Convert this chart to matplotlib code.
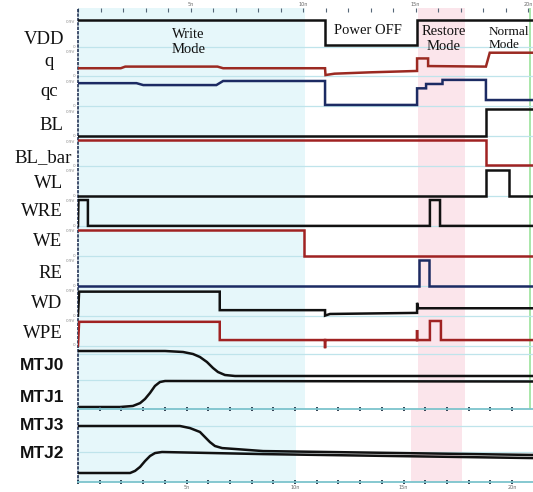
import numpy as np
import matplotlib
matplotlib.use('Agg')
from matplotlib import pyplot as plt

# signal names (lane order, top to bottom)
signals = ['VDD', 'q', 'qc', 'BL', 'BL_bar', 'WL', 'WRE', 'WE', 'RE', 'WD', 'WPE']

# waveforms: time (ns) / level (V)
vdd_t = [0, 10.98, 10.98, 15.07, 15.07, 20.3]
vdd_v = [0.98, 0.98, 0.05, 0.05, 0.98, 0.98]
q_t = [0, 1.9, 2.1, 6.2, 6.45, 10.98, 11.0, 11.4, 13.0, 15.07, 15.07, 15.56, 15.56, 18.13, 18.3, 20.3]
q_v = [0.30, 0.30, 0.36, 0.36, 0.30, 0.30, 0.05, 0.10, 0.15, 0.20, 0.66, 0.66, 0.38, 0.36, 0.87, 0.87]
qc_t = [0, 2.6, 2.9, 6.15, 6.45, 10.98, 10.98, 15.07, 15.07, 15.47, 15.47, 16.2, 16.2, 18.13, 18.13, 20.3]
qc_v = [0.85, 0.85, 0.78, 0.78, 0.93, 0.93, 0.05, 0.05, 0.66, 0.66, 0.82, 0.82, 0.97, 0.97, 0.23, 0.23]
bl_t = [0, 18.13, 18.13, 20.3]
bl_v = [0.0, 0.0, 1.0, 1.0]
blb_t = [0, 18.13, 18.13, 20.3]
blb_v = [0.96, 0.96, 0.04, 0.04]
wl_t = [0, 18.13, 18.13, 19.16, 19.16, 20.3]
wl_v = [0.01, 0.01, 0.95, 0.95, 0.01, 0.01]
wre_t = [0, 0.02, 0.44, 0.44, 15.64, 15.64, 16.09, 16.09, 20.3]
wre_v = [0, 0.95, 0.95, 0, 0, 0.95, 0.95, 0, 0]
we_t = [0, 10.03, 10.03, 20.3]
we_v = [0.95, 0.95, 0, 0]
re_t = [0, 15.14, 15.14, 15.59, 15.59, 20.3]
re_v = [0, 0, 0.94, 0.94, 0, 0]
wd_t = [0, 0.05, 6.3, 6.3, 10.98, 10.98, 11.2, 15.07, 15.07, 15.12, 20.3]
wd_v = [0, 0.88, 0.88, 0.2, 0.2, 0.0, 0.06, 0.1, 0.47, 0.27, 0.27]
wpe_t = [0, 0.05, 6.3, 6.3, 10.98, 10.98, 10.98, 15.07, 15.07, 15.07, 15.64, 15.64, 16.13, 16.13, 20.3]
wpe_v = [0, 0.87, 0.87, 0.2, 0.2, -0.1, 0.2, 0.2, 0.57, 0.2, 0.2, 0.9, 0.9, 0.2, 0.2]

waves = [(vdd_t, vdd_v), (q_t, q_v), (qc_t, qc_v), (bl_t, bl_v), (blb_t, blb_v), (wl_t, wl_v),
         (wre_t, wre_v), (we_t, we_v), (re_t, re_v), (wd_t, wd_v), (wpe_t, wpe_v)]
colors = ['#111111', '#9b2a22', '#1c2b63', '#111111', '#a02222', '#111111',
          '#111111', '#a02222', '#1c2b63', '#111111', '#a02222']

# MTJ states (1 = high, 0 = low)
mtj0_t = [0, 3.87, 4.67, 5.11, 5.42, 5.73, 6.0, 6.22, 6.53, 6.98, 20.3]
mtj0_s = [1, 1, 0.96, 0.88, 0.76, 0.56, 0.32, 0.16, 0.04, 0, 0]
mtj1_t = [0, 1.87, 2.44, 2.76, 2.98, 3.2, 3.42, 3.64, 3.87, 20.3]
mtj1_s = [0, 0, 0.04, 0.15, 0.31, 0.54, 0.81, 0.96, 1.0, 0.98]
mtj3_t = [0, 4.7, 5.16, 5.62, 5.85, 6.08, 6.31, 6.64, 7.24, 8.53, 21.0]
mtj3_s = [1, 1, 0.91, 0.74, 0.52, 0.30, 0.13, 0.04, 0, -0.09, -0.26]
mtj2_t = [0, 2.4, 2.63, 2.86, 3.09, 3.32, 3.55, 3.87, 8.53, 21.0]
mtj2_s = [0, 0, 0.1, 0.29, 0.57, 0.81, 0.95, 1.0, 0.9, 0.71]

tick_t = list(range(0, 21))
tick_lab = ['5n' if t == 5 else '10n' if t == 10 else '15n' if t == 15 else '20n' if t == 20 else '' for t in tick_t]

W, H = 533, 492
fig = plt.figure(figsize=(W / 100, H / 100), dpi=100)

def frac(x0, y0, x1, y1):
    return [x0 / W, 1 - y1 / H, (x1 - x0) / W, (y1 - y0) / H]

# label layer in pixel coordinates
lab = fig.add_axes([0, 0, 1, 1])
lab.set_xlim(0, W)
lab.set_ylim(H, 0)
lab.axis('off')

ax = fig.add_axes(frac(78, 8, 533, 409))
ax.set_xlim(0, (533 - 78) / 22.5)
ax.set_ylim(409, 8)
ax.patch.set_visible(False)
axb = fig.add_axes(frac(78, 409, 533, 482))
axb.set_xlim(0, (533 - 78) / 21.7)
axb.set_ylim(482, 409)
axb.patch.set_visible(False)

# mode shading
ax.axvspan(0, 10.09, color='#e6f7fa', lw=0, zorder=0)
ax.axvspan(15.1, 17.2, color='#fbe5eb', lw=0, zorder=0)
axb.axvspan(0, 10.05, color='#e6f7fa', lw=0, zorder=0)
axb.axvspan(15.35, 17.7, color='#fbe5eb', lw=0, zorder=0)
ax.axvline(20.1, color='#9be39b', lw=1.2, zorder=1)

lane_top, pitch, amp = 22.0, 29.9, 24.5
label_x = [64, 54, 58, 63, 72, 63, 63, 62, 62, 62, 63]
label_y = [40, 62, 92, 125, 158, 183, 212, 242, 273, 303, 333]
for k, (name, (t, v), c) in enumerate(zip(signals, waves, colors)):
    base = lane_top + pitch * k + amp
    ax.axhline(base, color='#bfe4eb', lw=0.9, zorder=1)
    ax.plot(t, [base - vv / 0.9 * amp for vv in v], color=c, lw=1.8, zorder=3, solid_joinstyle='miter')
    lab.text(label_x[k], label_y[k], name, ha='right', va='center', fontsize=13.5,
             family='Liberation Serif', color='#111111')
    lab.text(75, base - amp, '0.9V', ha='right', va='center', fontsize=3, color='#888888')
    lab.text(75, base, '0', ha='right', va='center', fontsize=3, color='#888888')

# MTJ panels
def lane(s, top, bot):
    return [bot - x * (bot - top) for x in s]

for y in [354, 380]:
    ax.axhline(y, color='#bfe4eb', lw=0.9, zorder=1)
for y in [426, 452]:
    axb.axhline(y, color='#bfe4eb', lw=0.9, zorder=1)
ax.plot(mtj0_t, lane(mtj0_s, 351, 376), color='#111111', lw=1.8, zorder=3)
ax.plot(mtj1_t, lane(mtj1_s, 381, 407), color='#111111', lw=1.8, zorder=3)
axb.plot(mtj3_t, lane(mtj3_s, 426, 449), color='#111111', lw=1.8, zorder=3)
axb.plot(mtj2_t, lane(mtj2_s, 452, 473), color='#111111', lw=1.8, zorder=3)

mtj_names = ['MTJ0', 'MTJ1', 'MTJ3', 'MTJ2']
mtj_y = [365, 397, 425, 453]
for name, y in zip(mtj_names, mtj_y):
    lab.text(64, y, name, ha='right', va='center', fontsize=12.5, family='Liberation Sans',
             fontweight='bold', color='#111111')

# mode captions
txt = dict(family='Liberation Serif', color='#111111', va='center', linespacing=1.2, zorder=5)
ax.text(4.9, 41.5, 'Write\nMode', ha='center', fontsize=10.5, **txt)
ax.text(12.89, 30, 'Power OFF', ha='center', fontsize=10.5, **txt)
ax.text(16.27, 39, 'Restore\nMode', ha='center', fontsize=10.5, **txt)
ax.text(18.25, 38.5, 'Normal\nMode', ha='left', fontsize=9.5, **txt)

# axes decoration
for a in (ax, axb):
    for s in ('top', 'right', 'bottom'):
        a.spines[s].set_visible(False)
    a.spines['left'].set_linestyle(':')
    a.spines['left'].set_color('#223355')
    a.spines['left'].set_linewidth(1.2)
    a.set_yticks([])
ax.set_xticks(tick_t)
ax.set_xticklabels(tick_lab)
ax.tick_params(axis='x', top=True, bottom=False, labeltop=True, labelbottom=False,
               direction='in', length=3, width=0.8, color='#556677', labelsize=3.5, pad=1,
               labelcolor='#666666')
axb.spines['top'].set_visible(True)
axb.spines['bottom'].set_visible(True)
for s in ('top', 'bottom'):
    axb.spines[s].set_color('#7cc4cd')
    axb.spines[s].set_linewidth(1.3)
axb.set_xticks(tick_t)
axb.set_xticklabels(tick_lab)
axb.tick_params(axis='x', top=True, bottom=True, direction='inout', length=2.5, width=1.4,
                color='#334455', labelsize=3.5, pad=1, labelcolor='#666666')

fig.savefig('out.png', dpi=100)
